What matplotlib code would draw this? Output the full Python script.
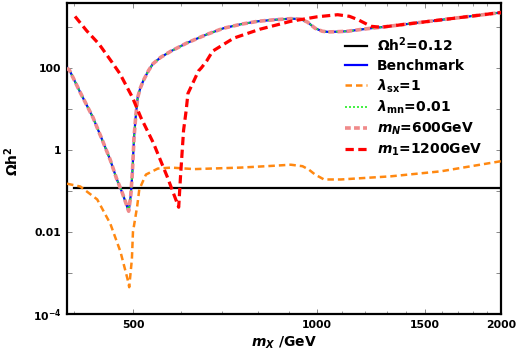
import numpy as np
import matplotlib
matplotlib.use("Agg")
import matplotlib.pyplot as plt
from matplotlib.ticker import FixedLocator, FixedFormatter, NullFormatter

plt.rcParams['font.family'] = ['DejaVu Sans']
plt.rcParams['font.weight'] = 'bold'
plt.rcParams['mathtext.fontset'] = 'custom'
plt.rcParams['mathtext.rm'] = 'DejaVu Sans:bold'
plt.rcParams['mathtext.it'] = 'DejaVu Sans:bold:italic'
plt.rcParams['mathtext.bf'] = 'DejaVu Sans:bold'

# ---------------- data ----------------
bench_x = [390, 394, 410, 430, 445, 459, 470, 480, 487, 492, 496, 499, 502, 505, 509,
           514, 520, 530, 539, 555, 577, 612, 660, 703, 750, 800, 850, 906, 940, 965,
           993, 1020, 1043, 1080, 1124, 1180, 1225, 1273, 2000]
bench_y = [100, 85, 25, 6.2, 1.8, 0.57, 0.2, 0.092, 0.05, 0.032, 0.08, 0.3, 2.0, 6.0, 19,
           32, 49, 85, 125, 180, 255, 400, 650, 920, 1150, 1360, 1480, 1580, 1540, 1300,
           920, 780, 750, 760, 780, 860, 920, 975, 2230]

lsx_x = [390, 410, 437, 459, 477, 490, 493, 498, 500, 508, 512, 525, 549, 577, 630,
         750, 850, 906, 947, 970, 993, 1027, 1094, 1322, 1594, 2000]
lsx_y = [0.15, 0.128, 0.062, 0.016, 0.0033, 0.0007, 0.00045, 0.0022, 0.01, 0.042, 0.108,
         0.25, 0.35, 0.37, 0.34, 0.37, 0.41, 0.435, 0.40, 0.33, 0.25, 0.19, 0.19, 0.227,
         0.30, 0.53]

lmn_x = bench_x
lmn_y = bench_y
mN_x = bench_x
mN_y = bench_y

m1_x = [402, 420, 440, 460, 476, 499, 515, 540, 569, 594, 598, 605, 611, 615, 640, 647,
        660, 675, 731, 806, 906, 1000, 1081, 1130, 1167, 1225, 1273, 2000]
m1_y = [1790, 800, 379, 150, 72, 19, 6.2, 1.47, 0.22, 0.04, 0.22, 3.0, 9.2, 23.6, 84, 100,
        147, 255, 530, 870, 1360, 1750, 1970, 1800, 1490, 1030, 975, 2230]

omega_value = 0.12
omega_range = [400, 2000]

xticks_major = [500, 1000, 1500, 2000]
xticks_minor = [400, 600, 700, 800, 900, 1100, 1200, 1300, 1400, 1600, 1700, 1800, 1900]
yticks = [1e-4, 1e-3, 1e-2, 1e-1, 1, 10, 100, 1000]
ytick_labels = [r'$10^{-4}$', '', '0.01', '', '1', '', '100', '']

labels = [r'$\Omega\mathrm{h}^2$=0.12', 'Benchmark', r'$\lambda_{\mathrm{sx}}$=1',
          r'$\lambda_{\mathrm{mn}}$=0.01', r'$m_N$=600GeV', r'$m_1$=1200GeV']

# ---------------- plot ----------------
fig = plt.figure(figsize=(5.18, 3.54), dpi=100)
ax = fig.add_axes([67/518, 40/354, 434/518, 311/354])

ax.plot(omega_range, [omega_value, omega_value], color='black', lw=1.6, label=labels[0], zorder=2)
ax.plot(bench_x, bench_y, color='#0000ff', lw=1.6, label=labels[1], zorder=3)
ax.plot(lsx_x, lsx_y, color='#ff8811', lw=1.8, dashes=(2.6, 1.6), label=labels[2], zorder=4)
ax.plot(lmn_x, lmn_y, color='#22ee22', lw=1.2, dashes=(1.2, 1.2), label=labels[3], zorder=5)
ax.plot(mN_x, mN_y, color='#f08a8a', lw=2.6, dashes=(1.6, 0.9), label=labels[4], zorder=6)
ax.plot(m1_x, m1_y, color='#ff0000', lw=2.3, dashes=(2.6, 1.4), label=labels[5], zorder=7)

ax.set_xscale('log')
ax.set_yscale('log')
ax.set_xlim(390, 2000)
ax.set_ylim(1e-4, 3800)

ax.xaxis.set_major_locator(FixedLocator(xticks_major))
ax.xaxis.set_major_formatter(FixedFormatter([str(v) for v in xticks_major]))
ax.xaxis.set_minor_locator(FixedLocator(xticks_minor))
ax.xaxis.set_minor_formatter(NullFormatter())
ax.yaxis.set_major_locator(FixedLocator(yticks))
ax.yaxis.set_major_formatter(FixedFormatter(ytick_labels))
ax.yaxis.set_minor_locator(FixedLocator([]))

ax.tick_params(which='major', direction='in', length=3.5, width=0.7, top=True, right=True,
               labelsize=7.8, pad=4, color='#888888')
ax.tick_params(which='minor', direction='in', length=2, width=0.6, top=True, right=True,
               color='#888888')
for lab in ax.get_xticklabels() + ax.get_yticklabels():
    lab.set_fontweight('bold')

for s in ax.spines.values():
    s.set_linewidth(1.6)

ax.set_xlabel(r'$m_X$ /GeV', fontsize=10, fontweight='bold')
ax.xaxis.set_label_coords(0.5, -0.065)
ax.set_ylabel(r'$\Omega\mathrm{h}^2$', fontsize=10, fontweight='bold')
ax.yaxis.set_label_coords(-0.105, 0.49)

leg = ax.legend(loc='upper left', bbox_to_anchor=(0.64, 0.895), frameon=False,
                fontsize=10, handlelength=1.6, handletextpad=0.7, labelspacing=0.32,
                borderpad=0, borderaxespad=0)
for t in leg.get_texts():
    t.set_fontweight('bold')

fig.savefig('out.png', dpi=100)
